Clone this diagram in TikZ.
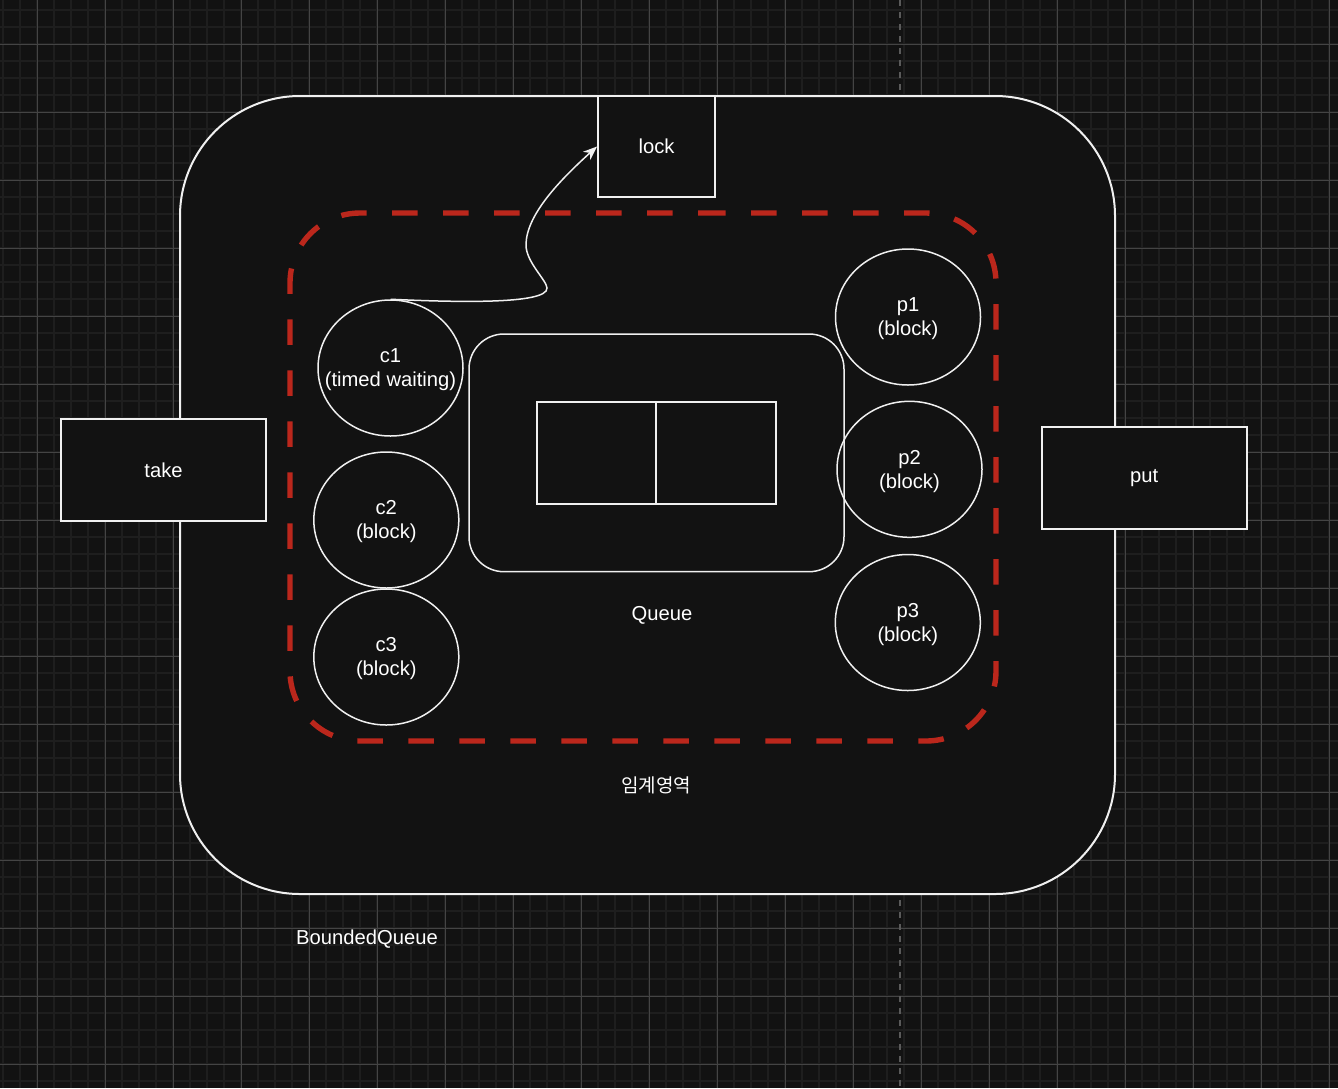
\documentclass[tikz,border=0pt]{standalone}
\usepackage{fontspec}
\setmainfont{Liberation Sans}
\newfontfamily\krfont{Noto Sans CJK KR}
\usetikzlibrary{shapes.geometric,arrows.meta}
\definecolor{bg}{HTML}{121212}
\definecolor{minorg}{HTML}{1E1E1E}
\definecolor{majorg}{HTML}{444444}
\definecolor{pageg}{HTML}{5A5A5A}
\definecolor{crit}{HTML}{BB271C}
\definecolor{strokew}{HTML}{F0F0F0}
\begin{document}
\begin{tikzpicture}[x=0.5pt,y=-0.5pt,
  font=\fontsize{10.1}{12}\selectfont,
  minorline/.style={draw=minorg, line width=1pt},
  majorline/.style={draw=majorg, line width=0.5pt},
  pageline/.style={draw=pageg, line width=1pt, dash pattern=on 3pt off 3pt},
  outershape/.style={draw=strokew, line width=1pt, fill=bg, rectangle, rounded corners=60pt, inner sep=0pt},
  opbox/.style={draw=strokew, line width=1pt, fill=bg, rectangle, inner sep=0pt, text=white},
  cellbox/.style={draw=strokew, line width=0.9pt, fill=bg, rectangle, inner sep=0pt},
  queuebox/.style={draw=strokew, line width=0.75pt, rectangle, rounded corners=17.5pt, inner sep=0pt},
  thread/.style={draw=strokew, line width=0.75pt, fill=bg, ellipse, minimum width=72.5pt, minimum height=68pt, inner sep=0pt},
  lbl/.style={align=center, text=white, inner sep=0pt, yshift=-0.9pt},
  critline/.style={draw=crit, line width=2.7pt, dash pattern=on 12.75pt off 12.75pt, dash phase=6.5pt, rounded corners=35pt},
  conn/.style={draw=strokew, line width=0.75pt, -{Stealth[length=7pt,width=5.5pt]}}
]
% background and grid
\fill[bg] (0,0) rectangle (1338,1088);
\useasboundingbox (0,0) rectangle (1338,1088);
\foreach \i in {0,...,78} {\draw[minorline] ({3.3+17*\i},0) -- ({3.3+17*\i},1088);}
\foreach \j in {0,...,63} {\draw[minorline] (0,{10+17*\j}) -- (1338,{10+17*\j});}
\foreach \i in {0,...,19} {\draw[majorline] ({37.3+68*\i},0) -- ({37.3+68*\i},1088);}
\foreach \j in {0,...,15} {\draw[majorline] (0,{44+68*\j}) -- (1338,{44+68*\j});}
\coordinate (pgtop) at (900,0);
\coordinate (pgbot) at (900,1088);
\draw[pageline] (pgtop) -- (pgbot);

% outer BoundedQueue shape
\node[outershape, minimum width=467.5pt, minimum height=399pt] (bq) at (647.5,495) {};

% operation boxes
\node[opbox, minimum width=102.5pt, minimum height=51pt] (take) at (163.5,470) {take};
\node[opbox, minimum width=102.5pt, minimum height=51pt] (put) at (1144.2,478) {\raisebox{-1pt}{put}};
\node[opbox, minimum width=58.5pt, minimum height=50.5pt] (lock) at (656.5,146.5) {\raisebox{-0.5pt}{lock}};

% critical section
\coordinate (critstart) at (643,213);
\draw[critline] (critstart) -- (996,213) -- (996,741) -- (290,741) -- (290,213) -- cycle;

% threads
\node[thread] (c1) at (390.5,368) {};
\node[thread] (c2) at (386.3,520) {};
\node[thread] (c3) at (386.3,657) {};
\node[thread] (p1) at (908,317) {};
\node[thread] (p2) at (909.5,469.3) {};
\node[thread] (p3) at (907.8,622.5) {};

% queue
\node[queuebox, minimum width=187.5pt, minimum height=118.85pt] (queue) at (656.5,452.85) {};
\node[cellbox, minimum width=59.5pt, minimum height=51pt] (cell1) at (596.5,452.7) {};
\node[cellbox, minimum width=59.85pt, minimum height=51pt] (cell2) at (715.85,452.7) {};

% texts
\node[lbl] (c1t) at (c1) {c1\\(timed waiting)};
\node[lbl] (c2t) at (c2) {c2\\(block)};
\node[lbl] (c3t) at (c3) {c3\\(block)};
\node[lbl] (p1t) at (p1) {p1\\(block)};
\node[lbl] (p2t) at (p2) {p2\\(block)};
\node[lbl] (p3t) at (p3) {p3\\(block)};
\node[lbl] (queuet) at (662,614) {Queue};
\node[lbl, font=\krfont\fontsize{9.5}{11}\selectfont] (critt) at (656,784) {임계영역};
\node[lbl] (bqt) at (367,937) {BoundedQueue};

% connector c1 -> lock
\draw[conn] (c1.north) .. controls (450,302) and (548,305) .. (547,288)
  .. controls (546.5,280) and (526,262) .. (526,245)
  .. controls (526,215) and (560,180) .. (lock.west);
\end{tikzpicture}
\end{document}
